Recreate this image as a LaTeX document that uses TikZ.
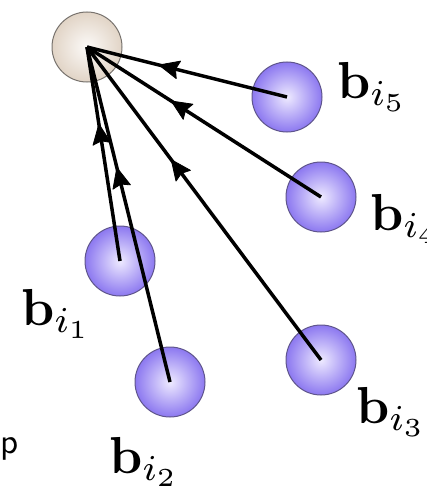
\documentclass[tikz,border=0pt]{standalone}
\usetikzlibrary{calc}
\definecolor{ballrim}{RGB}{140,120,240}
\definecolor{ballcore}{RGB}{238,234,255}
\definecolor{ballline}{RGB}{95,85,140}
\definecolor{toprim}{RGB}{225,212,198}
\definecolor{topcore}{RGB}{252,250,248}
\definecolor{topline}{RGB}{120,115,110}
\tikzset{
  ball/.style={circle, minimum size=70pt, inner sep=0pt, draw=ballline, line width=1pt,
    inner color=ballcore, outer color=ballrim},
  hub/.style={circle, minimum size=70pt, inner sep=0pt, draw=topline, line width=1pt,
    inner color=topcore, outer color=toprim},
  lab/.style={inner sep=0pt, scale=5.2, anchor=base west},
  link/.style={line width=3.5pt},
  headfill/.style={fill=black, draw=black, line width=0.8pt, line join=round}
}
\begin{document}
\begin{tikzpicture}[x=1pt,y=-1pt]
\useasboundingbox (0,0) rectangle (427,487);
\node[hub] (h) at (87,47) {};
\node[ball] (b5) at (287,97) {};
\node[ball] (b4) at (321,197) {};
\node[ball] (b1) at (120,261) {};
\node[ball] (b2) at (170,382) {};
\node[ball] (b3) at (321,360) {};
\coordinate (hc) at (h.center);
\foreach \b in {b5,b4,b3,b1,b2}{
  \draw[link] (\b.center) -- (hc) coordinate[pos=0.64] (m\b);
  \coordinate (q\b) at ($(m\b)!20pt!(\b.center)$);
  \fill[headfill] (m\b) -- ($(q\b)!9pt!90:(m\b)$) -- ($(q\b)!3pt!(m\b)$) -- ($(q\b)!9pt!-90:(m\b)$) -- cycle;
}
\node[lab] (l5) at (336,98) {$\mathbf{b}_{i_5}$};
\node[lab] (l4) at (369,230) {$\mathbf{b}_{i_4}$};
\node[lab] (l1) at (20,325) {$\mathbf{b}_{i_1}$};
\node[lab] (l2) at (108,473) {$\mathbf{b}_{i_2}$};
\node[lab] (l3) at (355,423) {$\mathbf{b}_{i_3}$};
\node[inner sep=0pt, scale=3.5, anchor=base west] (p) at (0,453) {\sffamily p};
\end{tikzpicture}
\end{document}
